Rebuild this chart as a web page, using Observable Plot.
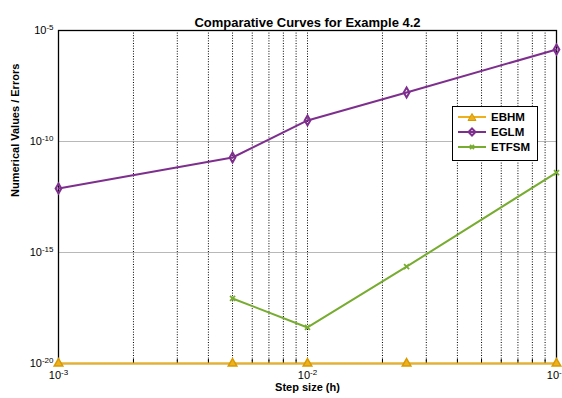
<!DOCTYPE html>
<html><head><meta charset="utf-8">
<script src="https://cdn.jsdelivr.net/npm/d3@7"></script>
<script src="https://cdn.jsdelivr.net/npm/@observablehq/plot@0.6"></script>
<style>
body{margin:0;background:#fff;font-family:"Liberation Sans",Arial,sans-serif}
#wrap{position:relative;width:562px;height:398px;overflow:hidden}
#legend{position:absolute;left:452px;top:106px;width:86px;height:55px;border:1px solid #000;background:#fff;box-sizing:border-box}
#legend .row{position:absolute;left:5px;height:14px;display:flex;align-items:center;font-weight:bold;font-size:11.5px;color:#000}
#legend svg{margin-right:5px}
</style>
</head><body><div id="wrap"></div>
<script>
// ---- data ----
const titleText = "Comparative Curves for Example 4.2";
const xLabelText = "Step size (h)";
const yLabelText = "Numerical Values / Errors";
const seriesNames = ["EBHM", "EGLM", "ETFSM"];
const seriesColors = ["#EDB120", "#7E2F8E", "#77AC30"];
const seriesSymbols = ["triangle", "diamond", "times"];
const stepSizes = [0.001, 0.005, 0.01, 0.025, 0.1];
const ebhmValues = [1e-20, 1e-20, 1e-20, 1e-20, 1e-20];
const eglmValues = [7.6e-13, 1.9e-11, 8.9e-10, 1.6e-8, 1.4e-6];
const etfsmSteps = [0.005, 0.01, 0.025, 0.1];
const etfsmValues = [8.5e-18, 4.2e-19, 2.3e-16, 4.0e-12];
const xTicks = [1e-3, 1e-2, 1e-1];
const yTicks = [1e-20, 1e-15, 1e-10, 1e-5];
const xGrid = [0.002,0.003,0.004,0.005,0.006,0.007,0.008,0.009,0.01,0.02,0.03,0.04,0.05,0.06,0.07,0.08,0.09];
const yGrid = [1e-15, 1e-10];

const rows = [
  ...stepSizes.map((x, i) => ({x, y: ebhmValues[i], s: "EBHM"})),
  ...stepSizes.map((x, i) => ({x, y: eglmValues[i], s: "EGLM"})),
  ...etfsmSteps.map((x, i) => ({x, y: etfsmValues[i], s: "ETFSM"}))
];
const col = Object.fromEntries(seriesNames.map((n, i) => [n, seriesColors[i]]));
const expFmt = d => "10^" + Math.round(Math.log10(d));

const chart = Plot.plot({
  width: 562, height: 398,
  marginLeft: 58, marginRight: 6, marginTop: 30, marginBottom: 35,
  style: {fontFamily: "'Liberation Sans', Arial, sans-serif", background: "#fff", overflow: "visible"},
  x: {type: "log", domain: [1e-3, 1e-1]},
  y: {type: "log", domain: [1e-20, 1e-5]},
  color: {domain: seriesNames, range: seriesColors},
  marks: [
    Plot.ruleY(yGrid, {stroke: "#b8b8b8", strokeWidth: 1}),
    Plot.ruleX(xGrid, {stroke: "#000", strokeWidth: 1, strokeDasharray: "1,1.6"}),
    Plot.axisX(xGrid, {tickSize: -4, tickFormat: () => "", stroke: "#000", label: null}),
    Plot.axisX(xTicks, {tickSize: 0, tickPadding: 8, tickFormat: expFmt, fontSize: 11, fill: "#000", label: null}),
    Plot.axisY(yTicks, {tickSize: 0, tickPadding: 5, tickFormat: expFmt, fontSize: 11, fill: "#000", label: null}),
    Plot.frame({stroke: "#000", strokeWidth: 1.3}),
    Plot.line(rows, {x: "x", y: "y", z: "s", stroke: "s", strokeWidth: 2}),
    Plot.dot(rows.filter(d => d.s === "EBHM"), {x: "x", y: "y", symbol: () => "triangle", fill: col.EBHM, stroke: "#d99a00", r: 3.2}),
    Plot.dot(rows.filter(d => d.s === "EGLM"), {x: "x", y: "y", symbol: () => "diamond", fill: "none", stroke: col.EGLM, strokeWidth: 2, r: 3}),
    Plot.dot(rows.filter(d => d.s === "ETFSM"), {x: "x", y: "y", symbol: () => "times", stroke: col.ETFSM, strokeWidth: 1.8, r: 2.4}),
    Plot.text([titleText], {text: d => d, frameAnchor: "top", dy: -13, fontWeight: "bold", fontSize: 13, fill: "#000"}),
    Plot.text([xLabelText], {text: d => d, frameAnchor: "bottom", dy: 27, fontWeight: "bold", fontSize: 11, fill: "#000"}),
    Plot.text([yLabelText], {text: d => d, frameAnchor: "left", dx: -43, rotate: -90, fontWeight: "bold", fontSize: 11, fill: "#000"})
  ]
});

// superscript exponents in tick labels
d3.select(chart).selectAll("text").each(function () {
  const t = this.textContent;
  if (/^10\^-?\d+$/.test(t)) {
    const [b, e] = t.split("^");
    const s = d3.select(this);
    s.text("");
    s.append("tspan").text(b);
    s.append("tspan").attr("dy", "-0.55em").attr("font-size", "8px").text(e);
  }
});

const wrap = document.getElementById("wrap");
wrap.appendChild(chart);

// legend
const legend = document.createElement("div");
legend.id = "legend";
seriesNames.forEach((n, i) => {
  const row = document.createElement("div");
  row.className = "row";
  row.style.top = (3 + i * 15) + "px";
  let marker;
  if (seriesSymbols[i] === "triangle") marker = `<path d="M14,1.5 L18,8.5 L10,8.5 Z" fill="${seriesColors[i]}" stroke="#d99a00"/>`;
  else if (seriesSymbols[i] === "diamond") marker = `<path d="M14,1.5 L17.5,5 L14,8.5 L10.5,5 Z" fill="none" stroke="${seriesColors[i]}" stroke-width="2"/>`;
  else marker = `<path d="M12,3 L16,7 M16,3 L12,7" stroke="${seriesColors[i]}" stroke-width="1.8"/>`;
  row.innerHTML = `<svg width="28" height="10"><line x1="0" y1="5" x2="28" y2="5" stroke="${seriesColors[i]}" stroke-width="2"/>${marker}</svg><span>${n}</span>`;
  legend.appendChild(row);
});
wrap.appendChild(legend);
</script>
</body></html>
